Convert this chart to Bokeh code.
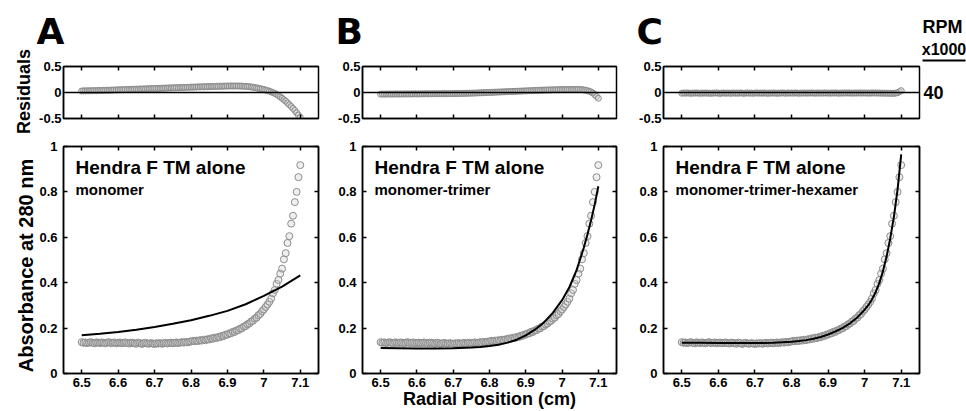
import math
from bokeh.plotting import figure
from bokeh.models import Range1d, FixedTicker, LinearAxis, Label, Span, Arrow
from bokeh.layouts import row, column
from bokeh.embed import file_html
from bokeh.resources import INLINE

# ---------------- data ----------------
radial = [
    6.500, 6.505, 6.510, 6.515, 6.520, 6.525, 6.530, 6.535, 6.540, 6.545,
    6.550, 6.555, 6.560, 6.565, 6.570, 6.575, 6.580, 6.585, 6.590, 6.595,
    6.600, 6.605, 6.610, 6.615, 6.620, 6.625, 6.630, 6.635, 6.640, 6.645,
    6.650, 6.655, 6.660, 6.665, 6.670, 6.675, 6.680, 6.685, 6.690, 6.695,
    6.700, 6.705, 6.710, 6.715, 6.720, 6.725, 6.730, 6.735, 6.740, 6.745,
    6.750, 6.755, 6.760, 6.765, 6.770, 6.775, 6.780, 6.785, 6.790, 6.795,
    6.800, 6.805, 6.810, 6.815, 6.820, 6.825, 6.830, 6.835, 6.840, 6.845,
    6.850, 6.855, 6.860, 6.865, 6.870, 6.875, 6.880, 6.885, 6.890, 6.895,
    6.900, 6.905, 6.910, 6.915, 6.920, 6.925, 6.930, 6.935, 6.940, 6.945,
    6.950, 6.955, 6.960, 6.965, 6.970, 6.975, 6.980, 6.985, 6.990, 6.995,
    7.000, 7.005, 7.010, 7.015, 7.020, 7.025, 7.030, 7.035, 7.040, 7.045,
    7.050, 7.055, 7.060, 7.065, 7.070, 7.075, 7.080, 7.085, 7.090, 7.095,
    7.100,
]

absorbance = [
    .138, .135, .137, .134, .136, .138, .135, .133, .137, .136,
    .134, .137, .135, .133, .136, .138, .134, .135, .137, .133,
    .135, .136, .133, .135, .137, .134, .132, .136, .135, .133,
    .131, .136, .134, .130, .133, .135, .132, .131, .134, .132,
    .130, .133, .132, .134, .131, .133, .135, .132, .134, .136,
    .133, .135, .137, .134, .136, .138, .136, .139, .137, .140,
    .141, .144, .142, .145, .143, .147, .145, .149, .147, .151,
    .150, .155, .153, .158, .156, .161, .160, .166, .165, .171,
    .171, .177, .177, .184, .183, .190, .191, .198, .199, .207,
    .209, .217, .220, .229, .232, .242, .246, .257, .262, .274,
    .282, .293, .304, .316, .330, .353, .368, .395, .412, .440,
    .462, .503, .530, .575, .605, .660, .695, .755, .800, .865,
    .918,
]

residuals_A = [
    .028, .033, .030, .035, .031, .036, .033, .038, .034, .039,
    .041, .037, .043, .040, .046, .042, .048, .045, .051, .047,
    .053, .050, .055, .052, .058, .055, .061, .057, .063, .060,
    .066, .062, .069, .065, .071, .068, .074, .070, .077, .073,
    .079, .076, .082, .078, .085, .081, .087, .084, .090, .086,
    .092, .089, .095, .091, .097, .094, .100, .096, .102, .099,
    .105, .101, .107, .104, .110, .106, .112, .108, .114, .110,
    .116, .112, .118, .115, .121, .117, .123, .119, .125, .121,
    .126, .122, .127, .123, .127, .124, .126, .122, .124, .119,
    .120, .114, .113, .106, .103, .095, .090, .081, .075, .066,
    .058, .047, .038, .025, .013, -.003, -.018, -.036, -.058, -.085,
    -.110, -.138, -.168, -.200, -.235, -.270, -.305, -.345, -.390, -.435,
    -.480,
]

residuals_B = [
    -.032, -.028, -.033, -.029, -.031, -.027, -.032, -.028, -.030, -.026,
    -.031, -.027, -.030, -.026, -.029, -.025, -.030, -.026, -.028, -.024,
    -.029, -.025, -.028, -.024, -.027, -.023, -.027, -.023, -.026, -.022,
    -.026, -.022, -.025, -.021, -.024, -.020, -.024, -.020, -.023, -.019,
    -.022, -.018, -.021, -.017, -.020, -.016, -.018, -.014, -.016, -.012,
    -.014, -.010, -.012, -.008, -.009, -.005, -.006, -.002, -.003, .001,
    .000, .004, .003, .007, .006, .010, .009, .013, .012, .016,
    .015, .019, .018, .022, .021, .025, .024, .028, .027, .031,
    .030, .034, .033, .037, .036, .040, .039, .043, .042, .046,
    .045, .049, .047, .051, .049, .053, .051, .055, .053, .057,
    .055, .058, .056, .059, .057, .060, .058, .061, .058, .060,
    .056, .055, .049, .044, .035, .024, .010, -.010, -.040, -.075,
    -.110,
]

residuals_C = [
    -.014, -.009, -.013, -.008, -.012, -.016, -.010, -.013, -.008, -.012,
    -.015, -.010, -.013, -.009, -.014, -.011, -.016, -.010, -.012, -.008,
    -.013, -.017, -.011, -.009, -.014, -.010, -.012, -.015, -.009, -.013,
    -.010, -.014, -.008, -.012, -.016, -.011, -.009, -.013, -.010, -.015,
    -.011, -.008, -.013, -.010, -.014, -.009, -.012, -.016, -.010, -.013,
    -.009, -.012, -.015, -.010, -.013, -.008, -.011, -.014, -.009, -.012,
    -.010, -.013, -.008, -.011, -.015, -.010, -.012, -.009, -.013, -.010,
    -.012, -.008, -.011, -.014, -.009, -.012, -.010, -.013, -.008, -.011,
    -.010, -.013, -.009, -.012, -.008, -.011, -.014, -.010, -.012, -.009,
    -.011, -.008, -.012, -.010, -.013, -.009, -.011, -.008, -.012, -.010,
    -.009, -.012, -.010, -.013, -.008, -.011, -.009, -.012, -.010, -.013,
    -.011, -.014, -.012, -.016, -.013, -.018, -.015, -.012, -.004, .015,
    .035,
]

fit_A_x = [6.50, 6.55, 6.60, 6.65, 6.70, 6.75, 6.80, 6.85, 6.90, 6.95, 7.00, 7.05, 7.10]
fit_A_y = [.168, .175, .183, .193, .205, .219, .235, .254, .276, .305, .342, .383, .432]

fit_B_x = [6.50, 6.55, 6.60, 6.65, 6.70, 6.75, 6.775, 6.80, 6.825, 6.85, 6.875, 6.90,
           6.925, 6.95, 6.975, 7.00, 7.02, 7.04, 7.06, 7.07, 7.08, 7.09, 7.10]
fit_B_y = [.112, .111, .110, .110, .111, .114, .117, .121, .127, .136, .149, .168,
           .193, .225, .268, .323, .380, .455, .555, .612, .675, .745, .825]

fit_C_x = [6.50, 6.55, 6.60, 6.65, 6.70, 6.75, 6.80, 6.82, 6.84, 6.86, 6.88, 6.90,
           6.92, 6.94, 6.96, 6.98, 7.00, 7.01, 7.02, 7.03, 7.04, 7.05, 7.06, 7.07,
           7.08, 7.09, 7.10]
fit_C_y = [.136, .135, .134, .134, .134, .135, .140, .143, .147, .153, .161, .172,
           .185, .201, .221, .247, .281, .301, .326, .358, .398, .450, .515, .595,
           .690, .810, .965]

panel_letters = ["A", "B", "C"]
sample_name = "Hendra F TM alone"
model_names = ["monomer", "monomer-trimer", "monomer-trimer-hexamer"]
x_ticks = [6.5, 6.6, 6.7, 6.8, 6.9, 7.0, 7.1]
x_tick_labels = ["6.5", "6.6", "6.7", "6.8", "6.9", "7", "7.1"]
abs_ticks = [0.0, 0.2, 0.4, 0.6, 0.8, 1.0]
abs_tick_labels = ["0", "0.2", "0.4", "0.6", "0.8", "1"]
res_ticks = [-0.5, 0.0, 0.5]
res_tick_labels = ["-0.5", "0", "0.5"]
rpm_header = ["RPM", "x1000"]
rpm_value = "40"
y_title_res = "Residuals"
y_title_abs = "Absorbance at 280 nm"
x_title = "Radial Position (cm)"

# ---------------- style / geometry ----------------
FONT = "Liberation Sans"
XR = (6.45, 7.15)
ABS_R = (0.0, 1.0)
RES_R = (-0.5, 0.5)
PT_LINE = "#8c8c8c"
PT_FILL = "#d0d0d0"
TOTAL_W, TOTAL_H = 966, 411
LEFT_W = 36
RIGHT_W = 45
BASE_SHIFT = 0.32   # alphabetic-baseline correction (fraction of font size)

# per column: (fig width, border left, border right)
cols = [(286, 25, 4), (312, 40, 18), (287, 29, 2)]
HEAD_W = TOTAL_W - LEFT_W - RIGHT_W
HEAD_H = 56
RES_H, RES_TOP, RES_BOT = 84, 10, 22
MAIN_H = TOTAL_H - HEAD_H - RES_H
MAIN_TOP, MAIN_BOT = 6, 38


def blank_fig(w, h):
    f = figure(width=w, height=h, x_range=Range1d(0, w), y_range=Range1d(h, 0),
               output_backend="svg", toolbar_location=None, title=None,
               x_axis_location=None, y_axis_location=None, min_border=0)
    f.grid.visible = False
    f.outline_line_color = None
    f.background_fill_color = "white"
    f.border_fill_color = "white"
    return f


def text_at(f, x, y_base, text, size, align="left", font=FONT, angle=0.0, baseline="alphabetic"):
    yy = y_base - BASE_SHIFT * size if baseline == "alphabetic" else y_base
    f.add_layout(Label(x=x, y=yy, text=text, text_font=font, text_font_style="bold",
                       text_font_size=f"{size}px", text_color="black", angle=angle,
                       text_align=align, text_baseline=baseline))


def style_axis(ax, labels_visible, standoff):
    ax.axis_line_color = "black"
    ax.axis_line_width = 1.5
    ax.major_tick_line_color = "black"
    ax.major_tick_line_width = 1.5
    ax.major_tick_in = 4
    ax.major_tick_out = 0
    ax.minor_tick_line_color = None
    ax.major_label_text_font = FONT
    ax.major_label_text_font_style = "bold"
    ax.major_label_text_font_size = "13px"
    ax.major_label_standoff = standoff
    ax.major_label_text_color = "black" if labels_visible else None
    ax.axis_label_text_font = FONT
    ax.axis_label_text_font_style = "bold"
    ax.axis_label_text_color = "black"


def make_fig(ci, kind):
    w, bl, br = cols[ci]
    if kind == "res":
        h, bt, bb, yr, yt, ylab = RES_H, RES_TOP, RES_BOT, RES_R, res_ticks, res_tick_labels
    else:
        h, bt, bb, yr, yt, ylab = MAIN_H, MAIN_TOP, MAIN_BOT, ABS_R, abs_ticks, abs_tick_labels
    p = figure(width=w, height=h, x_range=Range1d(*XR), y_range=Range1d(*yr),
               output_backend="svg", toolbar_location=None, title=None,
               x_axis_location=None, y_axis_location=None,
               min_border_left=bl, min_border_right=br,
               min_border_top=bt, min_border_bottom=bb)
    p.grid.visible = False
    p.outline_line_color = "black"
    p.outline_line_width = 1.5
    p.background_fill_color = "white"
    p.border_fill_color = "white"

    xb = LinearAxis(ticker=FixedTicker(ticks=x_ticks))
    if kind == "main":
        xb.major_label_overrides = dict(zip(x_ticks, x_tick_labels))
    else:
        xb.major_label_overrides = {t: "" for t in x_ticks}
    style_axis(xb, kind == "main", 4)
    p.add_layout(xb, "below")
    xa = LinearAxis(ticker=FixedTicker(ticks=x_ticks))
    xa.major_label_overrides = {t: "" for t in x_ticks}
    style_axis(xa, False, 0)
    p.add_layout(xa, "above")

    yl = LinearAxis(ticker=FixedTicker(ticks=yt))
    yl.major_label_overrides = dict(zip(yt, ylab))
    style_axis(yl, True, 2 if kind == "res" else 6)
    if kind == "res":
        yl.major_tick_in = 0
    p.add_layout(yl, "left")
    if kind == "main":
        yr_ax = LinearAxis(ticker=FixedTicker(ticks=yt))
        yr_ax.major_label_overrides = {t: "" for t in yt}
        style_axis(yr_ax, False, 0)
        p.add_layout(yr_ax, "right")
    return p, xb


# ---------------- left strip (y titles) ----------------
left = blank_fig(LEFT_W, TOTAL_H)
text_at(left, 23, 91, y_title_res, 18, align="center", angle=math.pi / 2, baseline="middle")
text_at(left, 25, 265, y_title_abs, 20, align="center", angle=math.pi / 2, baseline="middle")

# ---------------- right strip (RPM x1000 / 40) ----------------
right = blank_fig(RIGHT_W, TOTAL_H)
text_at(right, 21, 32, rpm_header[0], 18, align="center")
text_at(right, 22.5, 54, rpm_header[1], 16, align="center")
right.add_layout(Arrow(start=None, end=None, x_start=1, y_start=60, x_end=44, y_end=60,
                       line_color="black", line_width=2))
text_at(right, 2, 92, rpm_value, 18, align="left", baseline="middle")

# ---------------- header strip (panel letters) ----------------
head = blank_fig(HEAD_W, HEAD_H)
letter_px = [35, 335, 636]
for ci in range(3):
    text_at(head, max(letter_px[ci] - LEFT_W, 0), 43, panel_letters[ci], 36, font="DejaVu Sans")

residual_sets = [residuals_A, residuals_B, residuals_C]
fit_sets = [(fit_A_x, fit_A_y), (fit_B_x, fit_B_y), (fit_C_x, fit_C_y)]

columns = []
for ci in range(3):
    pr, _ = make_fig(ci, "res")
    pr.add_layout(Span(location=0, dimension="width", line_color="black", line_width=1.5))
    pr.scatter(radial, residual_sets[ci], marker="circle", size=6,
               line_color=PT_LINE, line_width=1, fill_color=PT_FILL, fill_alpha=0.35)

    pm, pm_x = make_fig(ci, "main")
    pm.scatter(radial, absorbance, marker="circle", size=7,
               line_color=PT_LINE, line_width=1, fill_color=PT_FILL, fill_alpha=0.35)
    fx, fy = fit_sets[ci]
    pm.line(fx, fy, line_color="black", line_width=2)
    pm.add_layout(Label(x=6.483, y=0.908, text=sample_name, text_font=FONT, text_font_style="bold",
                        text_font_size="19px", text_color="black",
                        text_align="left", text_baseline="alphabetic"))
    pm.add_layout(Label(x=6.483, y=0.812, text=model_names[ci], text_font=FONT,
                        text_font_style="bold", text_font_size="15px", text_color="black",
                        text_align="left", text_baseline="alphabetic"))
    if ci == 1:
        pm_x.axis_label = x_title
        pm_x.axis_label_text_font_size = "18px"
        pm_x.axis_label_standoff = -1
    columns.append(column(pr, pm, spacing=0))

inner = column(head, row(*columns, spacing=0), spacing=0)
layout = row(left, inner, right, spacing=0)
open("out.html", "w").write(file_html(layout, INLINE))
